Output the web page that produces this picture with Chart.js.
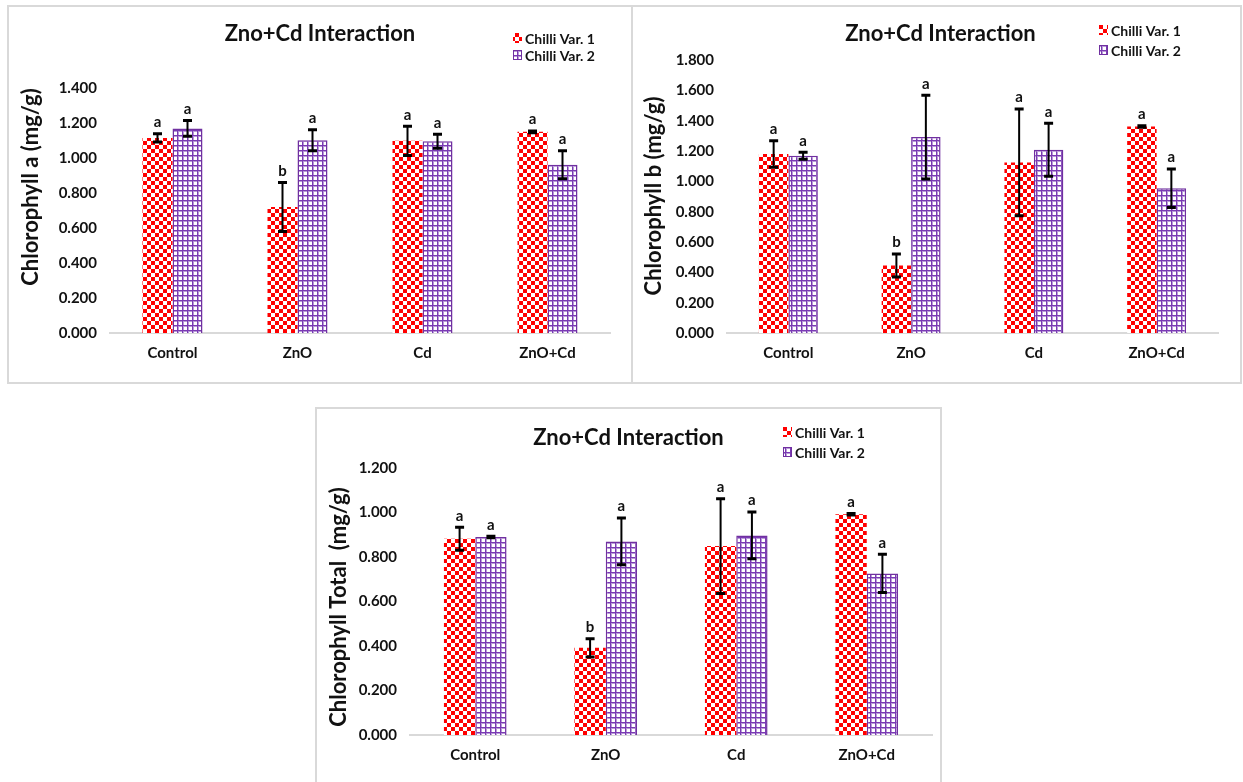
<!DOCTYPE html>
<html>
<head>
<meta charset="utf-8">
<script src="https://cdn.jsdelivr.net/npm/chart.js@4/dist/chart.umd.min.js"></script>
<style>
  html, body { margin: 0; padding: 0; background: #fff; width: 1243px; height: 782px; overflow: hidden; }
  .panel { position: absolute; }
  .panel canvas { position: absolute; left: 0; top: 0; }
  .frame { position: absolute; left: 0; top: 0; right: 0; bottom: 0; border: 2px solid #d9d9d9; box-sizing: border-box; pointer-events: none; }
</style>
</head>
<body>
<div class="panel" id="p1" style="left:7px; top:5px; width:626px; height:379px;"><canvas id="c1"></canvas><div class="frame"></div></div>
<div class="panel" id="p2" style="left:631px; top:5px; width:611px; height:379px;"><canvas id="c2"></canvas><div class="frame"></div></div>
<div class="panel" id="p3" style="left:315px; top:407px; width:627px; height:385px;"><canvas id="c3"></canvas><div class="frame"></div></div>
<script>
// ---------- DATA ----------
const categories = ['Control', 'ZnO', 'Cd', 'ZnO+Cd'];
const seriesNames = ['Chilli Var. 1', 'Chilli Var. 2'];
const chartTitle = 'Zno+Cd Interaction';

// Chlorophyll a
const chlA_var1 = [1.115, 0.720, 1.098, 1.150];
const chlA_var2 = [1.169, 1.102, 1.096, 0.961];
const chlA_err1 = [0.023, 0.140, 0.083, 0.005];
const chlA_err2 = [0.045, 0.060, 0.040, 0.080];
const chlA_let1 = ['a', 'b', 'a', 'a'];
const chlA_let2 = ['a', 'a', 'a', 'a'];

// Chlorophyll b
const chlB_var1 = [1.180, 0.445, 1.125, 1.362];
const chlB_var2 = [1.169, 1.292, 1.208, 0.955];
const chlB_err1 = [0.087, 0.076, 0.352, 0.005];
const chlB_err2 = [0.023, 0.276, 0.175, 0.127];
const chlB_let1 = ['a', 'b', 'a', 'a'];
const chlB_let2 = ['a', 'a', 'a', 'a'];

// Chlorophyll total
const chlT_var1 = [0.882, 0.392, 0.849, 0.992];
const chlT_var2 = [0.890, 0.870, 0.897, 0.726];
const chlT_err1 = [0.052, 0.041, 0.213, 0.003];
const chlT_err2 = [0.003, 0.105, 0.105, 0.086];
const chlT_let1 = ['a', 'b', 'a', 'a'];
const chlT_let2 = ['a', 'a', 'a', 'a'];

// axis titles and tick settings
const yTitles = ['Chlorophyll a (mg/g)', 'Chlorophyll b (mg/g)', 'Chlorophyll Total  (mg/g)'];
const yMax = [1.4, 1.8, 1.2];
const yStep = 0.2;

// ---------- STYLE ----------
const FONT = "Lato, 'Open Sans', sans-serif";
const RED = '#ff0000';
const PURPLE = '#7030a0';

function checkerPattern() {
  const c = document.createElement('canvas');
  c.width = 8; c.height = 8;
  const g = c.getContext('2d');
  g.fillStyle = '#ffffff'; g.fillRect(0, 0, 8, 8);
  g.fillStyle = RED; g.fillRect(0, 0, 4, 4); g.fillRect(4, 4, 4, 4);
  return g.createPattern(c, 'repeat');
}
function gridPattern() {
  const c = document.createElement('canvas');
  c.width = 5; c.height = 5;
  const g = c.getContext('2d');
  g.fillStyle = '#ffffff'; g.fillRect(0, 0, 5, 5);
  g.fillStyle = '#b99ad8';
  g.fillRect(1, 0, 1, 5);
  g.fillRect(0, 1, 5, 1);
  g.fillStyle = '#7a3ab3';
  g.fillRect(0, 0, 1, 5);
  g.fillRect(0, 0, 5, 1);
  return g.createPattern(c, 'repeat');
}

const errorBarPlugin = {
  id: 'errorBars',
  afterDatasetsDraw(chart) {
    const ctx = chart.ctx;
    const ys = chart.scales.y;
    ctx.save();
    chart.data.datasets.forEach((ds, di) => {
      const meta = chart.getDatasetMeta(di);
      meta.data.forEach((bar, i) => {
        const v = ds.data[i], e = ds.errors[i];
        const yt = ys.getPixelForValue(v + e);
        const yb = ys.getPixelForValue(v - e);
        const x = bar.x;
        ctx.strokeStyle = '#000';
        ctx.lineWidth = 2;
        ctx.beginPath(); ctx.moveTo(x, yt); ctx.lineTo(x, yb); ctx.stroke();
        ctx.lineWidth = 3;
        ctx.beginPath();
        ctx.moveTo(x - 4.5, yt); ctx.lineTo(x + 4.5, yt);
        ctx.moveTo(x - 4.5, yb); ctx.lineTo(x + 4.5, yb);
        ctx.stroke();
        const top = Math.min(yt, bar.y);
        ctx.fillStyle = '#111';
        ctx.font = 'bold 15px ' + FONT;
        ctx.textAlign = 'center';
        ctx.textBaseline = 'bottom';
        ctx.fillText(ds.letters[i], x, top - 4);
      });
    });
    ctx.restore();
  }
};

const headerPlugin = {
  id: 'header',
  afterDraw(chart, args, o) {
    const ctx = chart.ctx;
    ctx.save();
    ctx.fillStyle = '#111';
    ctx.font = 'bold 22px ' + FONT;
    ctx.textAlign = 'center';
    ctx.textBaseline = 'middle';
    ctx.fillText(o.title, chart.width / 2 + o.titleDx, o.titleY);
    // y-axis title
    ctx.save();
    ctx.translate(o.yTitleX, o.yTitleY);
    ctx.rotate(-Math.PI / 2);
    ctx.font = 'bold 22px ' + FONT;
    ctx.fillText(o.yTitle, 0, 0);
    ctx.restore();
    // legend
    ctx.font = 'bold 14px ' + FONT;
    ctx.textAlign = 'left';
    chart.data.datasets.forEach((ds, i) => {
      const y = o.legendY + i * o.legendDy;
      ctx.fillStyle = ds.backgroundColor;
      ctx.fillRect(o.legendX, y - 5, 9, 10);
      if (i === 1) { ctx.strokeStyle = PURPLE; ctx.lineWidth = 1; ctx.strokeRect(o.legendX + 0.5, y - 4.5, 8, 9); }
      ctx.fillStyle = '#111';
      ctx.fillText(ds.label, o.legendX + 12, y + 1);
    });
    ctx.restore();
  }
};

function makeChart(id, idx, v1, v2, e1, e2, l1, l2, lay) {
  const checker = checkerPattern();
  const grid = gridPattern();
  return new Chart(document.getElementById(id), {
    type: 'bar',
    data: {
      labels: categories,
      datasets: [
        { label: seriesNames[0], data: v1, errors: e1, letters: l1, backgroundColor: checker, borderWidth: 0,
          categoryPercentage: 0.48, barPercentage: 1.0 },
        { label: seriesNames[1], data: v2, errors: e2, letters: l2, backgroundColor: grid, borderColor: PURPLE, borderWidth: 1.5,
          categoryPercentage: 0.48, barPercentage: 1.0 }
      ]
    },
    options: {
      responsive: true,
      maintainAspectRatio: false,
      animation: false,
      layout: { padding: { left: 0, right: lay.right, top: lay.top, bottom: 0 } },
      plugins: {
        legend: { display: false },
        title: { display: false },
        tooltip: { enabled: false },
        header: { title: chartTitle, titleY: lay.titleY, titleDx: lay.titleDx, legendX: lay.legendX, legendY: lay.legendY,
                  legendDy: lay.legendDy, yTitle: yTitles[idx], yTitleX: lay.ytX, yTitleY: lay.ytY }
      },
      scales: {
        x: {
          grid: { display: false, drawTicks: false },
          border: { display: true, color: '#d9d9d9', width: 2 },
          ticks: { color: '#111', font: { family: FONT, size: 15, weight: 'bold' }, padding: 11, maxRotation: 0 },
          afterFit(s) { s.height = lay.xh; }
        },
        y: {
          min: 0, max: yMax[idx],
          grid: { display: false, drawTicks: false },
          border: { display: false },
          ticks: { stepSize: yStep, color: '#111', font: { family: FONT, size: 15, weight: 'bold' }, padding: 13,
                   callback: (v) => Number(v).toFixed(3) },
          afterFit(s) { s.width = lay.yw; }
        }
      }
    },
    plugins: [errorBarPlugin, headerPlugin]
  });
}

makeChart('c1', 0, chlA_var1, chlA_var2, chlA_err1, chlA_err2, chlA_let1, chlA_let2,
  { right: 23, top: 83, xh: 51, yw: 103, ytX: 24, ytY: 182, titleY: 29, titleDx: 0, legendX: 506, legendY: 33, legendDy: 17 });
makeChart('c2', 1, chlB_var1, chlB_var2, chlB_err1, chlB_err2, chlB_let1, chlB_let2,
  { right: 24, top: 55, xh: 51, yw: 96, ytX: 23, ytY: 191, titleY: 29, titleDx: 4, legendX: 468, legendY: 25, legendDy: 20 });
makeChart('c3', 2, chlT_var1, chlT_var2, chlT_err1, chlT_err2, chlT_let1, chlT_let2,
  { right: 10, top: 61, xh: 57, yw: 95, ytX: 24, ytY: 200, titleY: 31, titleDx: 0, legendX: 468, legendY: 25, legendDy: 20 });
</script>
</body>
</html>
